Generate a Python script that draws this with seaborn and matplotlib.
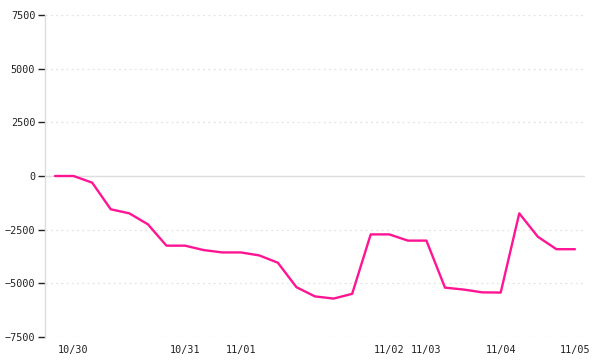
import matplotlib
matplotlib.use("Agg")
import matplotlib.pyplot as plt
import seaborn as sns
import pandas as pd

values = [0, 0, -310, -1550, -1740, -2250, -3245, -3245, -3450, -3560,
          -3560, -3700, -4040, -5180, -5610, -5710, -5490, -2720, -2720, -3010,
          -3010, -5200, -5290, -5420, -5430, -1740, -2830, -3410, -3410]
tick_positions = [1, 7, 10, 18, 20, 24, 28]
tick_labels = ["10/30", "10/31", "11/01", "11/02", "11/03", "11/04", "11/05"]
y_ticks = [-7500, -5000, -2500, 0, 2500, 5000, 7500]

df = pd.DataFrame({"idx": list(range(len(values))), "value": values})

sns.set_theme(style="white")
plt.rcParams['font.family'] = ['DejaVu Sans Mono', 'DejaVu Sans']

fig = plt.figure(figsize=(6, 3.6), dpi=100)
ax = fig.add_axes([0.075, 0.0639, 0.9, 0.8944])

for yt in y_ticks:
    if yt == 0:
        continue
    ax.axhline(yt, color="#e4e4e4", lw=0.9, ls=(0, (1.6, 2.6)), zorder=0)
ax.axhline(0, color="#dddddd", lw=1.0, zorder=0)

sns.lineplot(data=df, x="idx", y="value", ax=ax, color="#ff1493", lw=1.7)

ax.set_xlim(-0.54, 28.54)
ax.set_ylim(-7500, 7500)
ax.set_yticks(y_ticks)
ax.set_yticklabels([str(v).replace("-", "\u2212") for v in y_ticks])
ax.set_xticks(tick_positions)
ax.set_xticklabels(tick_labels)
ax.set_xlabel("")
ax.set_ylabel("")

for s in ["top", "right", "bottom"]:
    ax.spines[s].set_visible(False)
ax.spines["left"].set_color("#dddddd")
ax.spines["left"].set_linewidth(1.0)

ax.tick_params(axis="y", which="both", left=True, length=5, width=1, color="#222222",
               labelsize=7.3, labelcolor="#222222", pad=2)
ax.tick_params(axis="x", which="both", bottom=False, length=0,
               labelsize=7.3, labelcolor="#222222", pad=6)

fig.savefig("out.png", dpi=100, facecolor="white")
